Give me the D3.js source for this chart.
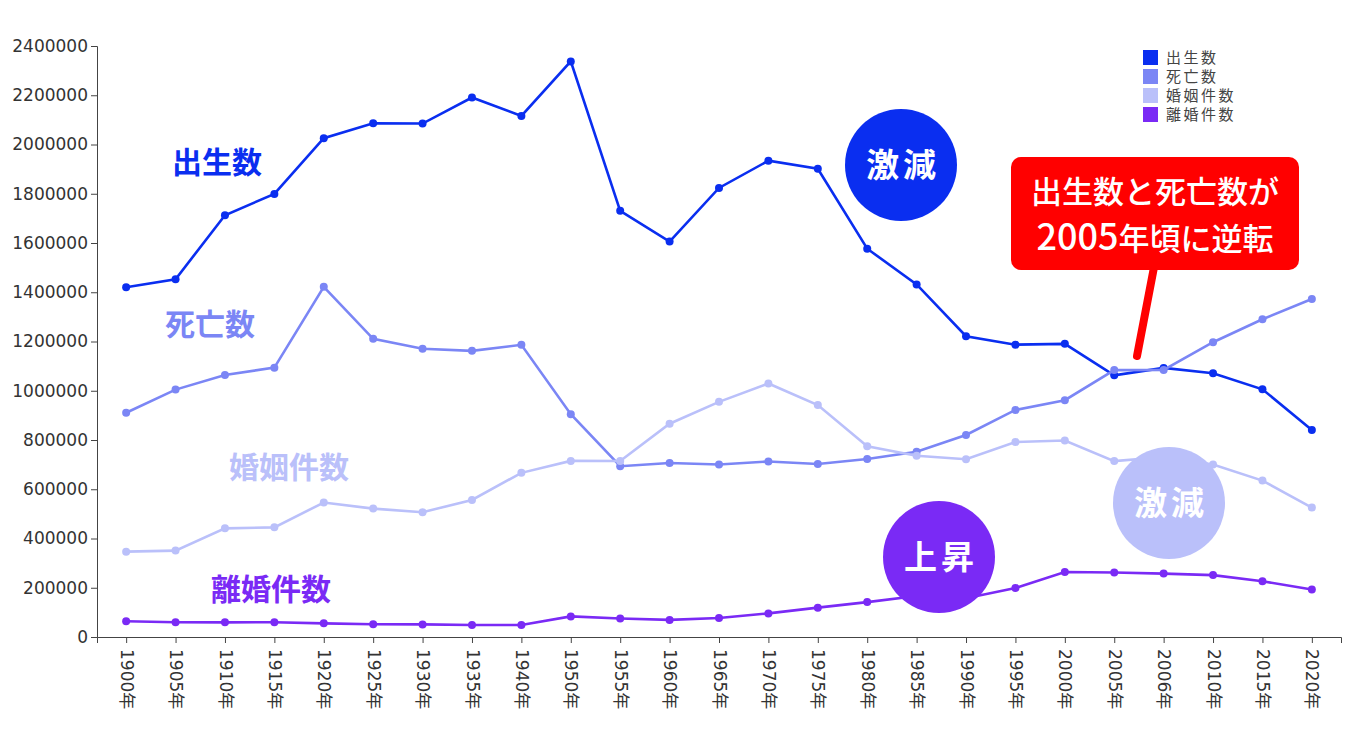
<!DOCTYPE html>
<html>
<head>
<meta charset="utf-8">
<script src="https://cdn.jsdelivr.net/npm/d3@7"></script>
<style>
  body { margin: 0; background: #fff; }
  .axis text { font-family: "DejaVu Sans", "Noto Sans CJK JP", sans-serif; font-size: 17px; fill: #333; }
  .axis path, .axis line { stroke: #444; }
  .line { fill: none; stroke-width: 2.6; }
  .jp { font-family: "Noto Sans CJK JP", sans-serif; }
</style>
</head>
<body>
<div id="chart"></div>
<script>
// years (1945 is missing in the source)
var years = ["1900","1905","1910","1915","1920","1925","1930","1935","1940","1950","1955","1960",
             "1965","1970","1975","1980","1985","1990","1995","2000","2005","2006","2010","2015","2020"];

var births    = [1420534,1452770,1712857,1799326,2025564,2086091,2085101,2190704,2115867,2337507,1730692,1606041,
                 1823697,1934239,1901440,1576889,1431577,1221585,1187064,1190547,1062530,1092674,1071304,1005721,840835];
var deaths    = [910744,1004661,1064234,1093793,1422096,1210706,1170867,1161936,1186595,904876,693523,706599,
                 700438,712962,702275,722801,752283,820305,922139,961653,1083796,1084450,1197014,1290444,1372755];
var marriages = [346528,350898,441222,445210,546207,521438,506674,556730,666575,715081,714861,866115,
                 954852,1029405,941628,774702,735850,722138,791888,798138,714265,730971,700214,635156,525507];
var divorces  = [63828,60061,59432,59943,55511,51687,51259,48528,48556,83689,75267,69410,
                 77195,95937,119135,141689,166640,157608,199016,264246,261917,257475,251378,226238,193253];

var seriesNames  = ["出生数", "死亡数", "婚姻件数", "離婚件数"];
var seriesColors = ["#0a2ef0", "#7b86f5", "#bac0fa", "#7a2af5"];
var yTicks = [0,200000,400000,600000,800000,1000000,1200000,1400000,1600000,1800000,2000000,2200000,2400000];

//
// setup
//
var W = 1366, H = 733,
    margin = {top: 46, right: 25, bottom: 96, left: 97},
    width = W - margin.left - margin.right,
    height = H - margin.top - margin.bottom;

var root = d3.select("#chart").append("svg")
    .attr("width", W).attr("height", H);
var svg = root.append("g")
    .attr("transform", "translate(" + margin.left + "," + margin.top + ")");

var x = d3.scalePoint().domain(years).range([0, width]).padding(0.59);
var y = d3.scaleLinear().domain([0, 2400000]).range([height, 0]);

// axes
svg.append("g")
  .attr("class", "axis axis-y")
  .call(d3.axisLeft(y).tickValues(yTicks).tickFormat(d3.format("d")));

var xa = svg.append("g")
  .attr("class", "axis axis-x")
  .attr("transform", "translate(0," + height + ")")
  .call(d3.axisBottom(x).tickFormat(function(d){ return d + "年"; }));
xa.selectAll("text")
  .attr("transform", "rotate(90)")
  .attr("x", 12).attr("y", 0).attr("dy", "0.35em")
  .style("text-anchor", "start");

//
// lines
//
var allSeries = [births, deaths, marriages, divorces];
allSeries.forEach(function(vals, i){
  var pts = years.map(function(yr, j){ return {year: yr, value: vals[j]}; });
  var line = d3.line()
      .x(function(d){ return x(d.year); })
      .y(function(d){ return y(d.value); });
  svg.append("path")
    .datum(pts)
    .attr("class", "line")
    .attr("stroke", seriesColors[i])
    .attr("d", line);
  svg.selectAll(".dot" + i)
    .data(pts).enter().append("circle")
    .attr("class", "dot" + i)
    .attr("cx", function(d){ return x(d.year); })
    .attr("cy", function(d){ return y(d.value); })
    .attr("r", 4)
    .attr("fill", seriesColors[i]);
});

//
// legend
//
var legend = svg.append("g").attr("transform", "translate(1046,4)");
seriesNames.forEach(function(name, i){
  legend.append("rect")
    .attr("x", 0).attr("y", i * 19)
    .attr("width", 15).attr("height", 15)
    .attr("fill", seriesColors[i]);
  legend.append("text")
    .attr("class", "jp")
    .attr("x", 23).attr("y", i * 19 + 8)
    .attr("dy", "0.35em")
    .style("font-size", "15px")
    .style("letter-spacing", "2.5px")
    .style("fill", "#444")
    .text(name);
});

//
// annotations (absolute page coords)
//
var ann = root.append("g");

var seriesLabels = [
  {text: "出生数",   cx: 217, cy: 162, color: seriesColors[0]},
  {text: "死亡数",   cx: 210, cy: 324, color: seriesColors[1]},
  {text: "婚姻件数", cx: 289, cy: 467, color: seriesColors[2]},
  {text: "離婚件数", cx: 271, cy: 589, color: seriesColors[3]}
];
seriesLabels.forEach(function(l){
  ann.append("text")
    .attr("class", "jp")
    .attr("x", l.cx).attr("y", l.cy)
    .attr("dy", "0.36em")
    .attr("text-anchor", "middle")
    .style("font-size", "30px")
    .style("font-weight", "bold")
    .style("fill", l.color)
    .text(l.text);
});

var bubbles = [
  {text: "激減", cx: 901,  cy: 165, color: seriesColors[0]},
  {text: "激減", cx: 1169, cy: 503, color: seriesColors[2]},
  {text: "上昇", cx: 939,  cy: 557, color: seriesColors[3]}
];
bubbles.forEach(function(b){
  ann.append("circle")
    .attr("cx", b.cx).attr("cy", b.cy).attr("r", 56)
    .attr("fill", b.color);
  ann.append("text")
    .attr("class", "jp")
    .attr("x", b.cx + 2).attr("y", b.cy)
    .attr("dy", "0.36em")
    .attr("text-anchor", "middle")
    .style("font-size", "33px")
    .style("font-weight", "bold")
    .style("letter-spacing", "4px")
    .style("fill", "#fff")
    .text(b.text);
});

// red callout
ann.append("line")
  .attr("x1", 1155).attr("y1", 262)
  .attr("x2", 1137).attr("y2", 356)
  .attr("stroke", "#ff0000")
  .attr("stroke-width", 8)
  .attr("stroke-linecap", "round");
ann.append("rect")
  .attr("x", 1011).attr("y", 157)
  .attr("width", 288).attr("height", 113)
  .attr("rx", 10).attr("ry", 10)
  .attr("fill", "#ff0000");
var calloutLines = [
  [{t: "出生数と死亡数が", s: 31}],
  [{t: "2005", s: 36}, {t: "年頃に逆転", s: 31}]
];
calloutLines.forEach(function(parts, i){
  var txt = ann.append("text")
    .attr("class", "jp")
    .attr("x", 1155).attr("y", 203 + i * 47)
    .attr("text-anchor", "middle")
    .style("font-weight", "500")
    .style("fill", "#fff");
  parts.forEach(function(p){
    txt.append("tspan").style("font-size", p.s + "px").text(p.t);
  });
});
</script>
</body>
</html>
